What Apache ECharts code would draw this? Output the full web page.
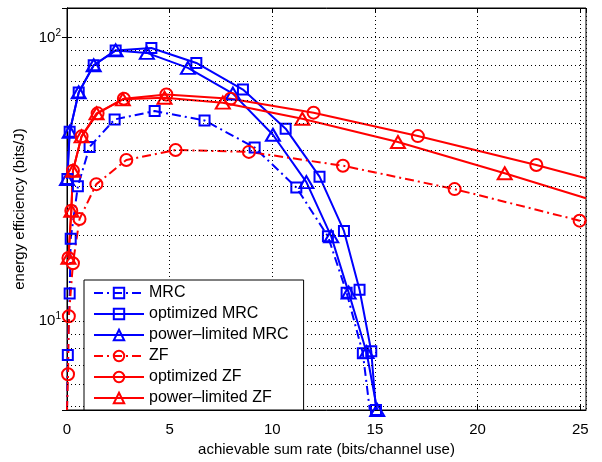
<!DOCTYPE html>
<html>
<head>
<meta charset="utf-8">
<script src="https://cdn.jsdelivr.net/npm/echarts@6/dist/echarts.min.js"></script>
<style>
  html, body { margin: 0; padding: 0; background: #fff; }
  #main { width: 602px; height: 462px; }
</style>
</head>
<body>
<div id="main"></div>
<script>
// axis ranges
const xMin = 0, xMax = 25.28;
const yMin = 4.86, yMax = 127;
const yGrid = [5, 6, 7, 8, 9, 10, 20, 30, 40, 50, 60, 70, 80, 90, 100];

// MRC (dash-dot, squares)
const mrcX = [0.0, 0.04, 0.13, 0.18, 0.53, 1.10, 2.32, 4.27, 6.70, 9.14, 11.17, 12.71, 13.62, 14.41, 14.75];
const mrcY = [4.86, 7.6, 12.5, 19.5, 29.9, 41.1, 51.4, 55.0, 51.0, 40.9, 29.6, 19.9, 12.6, 7.7, 4.86];
const mrcBare = [0, 14];

// optimized MRC
const optMrcX = [0.02, 0.13, 0.57, 1.30, 2.37, 4.11, 6.30, 8.57, 10.65, 12.30, 13.49, 14.25, 14.82, 15.05];
const optMrcY = [31.7, 46.5, 64.0, 79.8, 90.0, 91.8, 81.3, 65.5, 47.7, 32.3, 20.8, 12.9, 7.83, 4.86];

// power-limited MRC
const plMrcX = [0.0, 0.13, 0.57, 1.30, 2.37, 3.89, 5.89, 8.08, 10.03, 11.66, 12.87, 13.72, 14.59, 15.11];
const plMrcY = [31.7, 46.5, 64.0, 79.8, 90.0, 88.2, 78.1, 63.4, 45.4, 30.9, 19.9, 12.6, 7.77, 4.86];

// ZF (dash-dot, circles)
const zfX = [0.0, 0.05, 0.09, 0.29, 0.61, 1.43, 2.89, 5.29, 8.86, 13.44, 18.88, 24.97, 25.28];
const zfY = [4.86, 6.5, 10.4, 16.0, 22.9, 30.4, 37.0, 40.1, 39.5, 35.3, 29.2, 22.6, 22.3];
const zfBare = [0, 12];

// optimized ZF
const optZfX = [0.07, 0.21, 0.29, 0.71, 1.49, 2.77, 4.84, 7.97, 12.01, 17.09, 22.86, 25.28];
const optZfY = [16.7, 24.5, 33.9, 44.8, 54.0, 60.8, 62.9, 60.8, 54.3, 44.9, 35.5, 31.9];
const optZfBare = [11];

// power-limited ZF
const plZfX = [0.07, 0.21, 0.29, 0.71, 1.44, 2.72, 4.75, 7.59, 11.46, 16.12, 21.32, 25.28];
const plZfY = [16.7, 24.5, 33.9, 44.8, 54.0, 60.5, 61.3, 58.9, 51.7, 42.8, 33.2, 27.1];
const plZfBare = [11];

const FONT = 'Liberation Sans';
const BLUE = '#0000ff', RED = '#ff0000';
const dashDot = [9, 4, 2, 4];

function pts(xs, ys, bare) {
  return xs.map((x, i) => (bare || []).indexOf(i) >= 0
    ? { value: [x, ys[i]], symbol: 'none' }
    : [x, ys[i]]);
}

function line(name, color, dash, symbol, size, data) {
  return {
    name: name,
    type: 'line',
    data: data,
    symbol: symbol,
    symbolSize: size,
    z: 3,
    lineStyle: { color: color, width: 2, type: dash },
    itemStyle: { color: 'rgba(0,0,0,0)', borderColor: color, borderWidth: 2 },
    emphasis: { disabled: true },
    animation: false
  };
}

let myChart = echarts.init(document.getElementById('main'));
let option = {
  animation: false,
  grid: { left: 67, right: 16, top: 8, bottom: 50, show: true, borderColor: '#000', borderWidth: 1 },
  legend: {
    left: 84, top: 280, orient: 'vertical', zlevel: 1, z: 10,
    itemWidth: 50, itemHeight: 13, itemGap: 5,
    padding: [5, 15, 4, 9],
    borderColor: '#000', borderWidth: 1, backgroundColor: '#fff',
    selectedMode: false,
    textStyle: { fontFamily: FONT, fontSize: 16, color: '#000', lineHeight: 16 },
    data: ['MRC', 'optimized MRC', 'power–limited MRC', 'ZF', 'optimized ZF', 'power–limited ZF']
  },
  xAxis: [
    {
      type: 'value', min: xMin, max: xMax, interval: 5, position: 'bottom',
      axisLine: { lineStyle: { color: '#000', width: 1 } },
      axisTick: { inside: true, length: 5, lineStyle: { color: '#000' } },
      axisLabel: { fontFamily: FONT, fontSize: 15, color: '#000', margin: 12, showMaxLabel: false },
      splitLine: { show: true, lineStyle: { type: [1, 3], color: '#000', width: 1 } },
      name: 'achievable sum rate (bits/channel use)', nameLocation: 'middle', nameGap: 32,
      nameTextStyle: { fontFamily: FONT, fontSize: 15, color: '#000' }
    },
    {
      type: 'value', min: xMin, max: xMax, interval: 5, position: 'top',
      axisLine: { lineStyle: { color: '#000', width: 1 } },
      axisTick: { inside: true, length: 5, lineStyle: { color: '#000' } },
      axisLabel: { show: false }, splitLine: { show: false }
    }
  ],
  yAxis: [
    {
      type: 'log', logBase: 10, min: yMin, max: yMax,
      axisLine: { lineStyle: { color: '#000', width: 1 } },
      axisTick: { inside: true, length: 5, lineStyle: { color: '#000' } },
      axisLabel: {
        showMinLabel: false, showMaxLabel: false, margin: 6, color: '#000',
        formatter: function (v) { return '{b|10}{s|' + Math.round(Math.log10(v)) + '}'; },
        rich: {
          b: { fontFamily: FONT, fontSize: 15, color: '#000' },
          s: { fontFamily: FONT, fontSize: 10, color: '#000', padding: [0, 0, 9, 0] }
        }
      },
      splitLine: { show: false },
      name: 'energy efficiency (bits/J)', nameLocation: 'middle', nameGap: 38, nameRotate: 90,
      nameTextStyle: { fontFamily: FONT, fontSize: 15, color: '#000' }
    },
    {
      type: 'log', logBase: 10, min: yMin, max: yMax, position: 'right',
      axisLine: { lineStyle: { color: '#000', width: 1 } },
      axisTick: { inside: true, length: 5, lineStyle: { color: '#000' } },
      axisLabel: { show: false }, splitLine: { show: false }
    }
  ],
  series: [
    {
      type: 'line', data: [], z: 1, silent: true,
      markLine: {
        silent: true, symbol: ['none', 'none'], animation: false,
        label: { show: false },
        lineStyle: { type: [1, 3], color: '#000', width: 1, opacity: 1 },
        emphasis: { disabled: true },
        data: yGrid.map(v => ({ yAxis: v }))
      }
    },
    line('MRC', BLUE, dashDot, 'rect', 10, pts(mrcX, mrcY, mrcBare)),
    line('optimized MRC', BLUE, 'solid', 'rect', 10, pts(optMrcX, optMrcY)),
    line('power–limited MRC', BLUE, 'solid', 'triangle', [14, 12], pts(plMrcX, plMrcY)),
    line('ZF', RED, dashDot, 'circle', 12, pts(zfX, zfY, zfBare)),
    line('optimized ZF', RED, 'solid', 'circle', 12, pts(optZfX, optZfY, optZfBare)),
    line('power–limited ZF', RED, 'solid', 'triangle', [14, 12], pts(plZfX, plZfY, plZfBare))
  ]
};
myChart.setOption(option);
</script>
</body>
</html>
